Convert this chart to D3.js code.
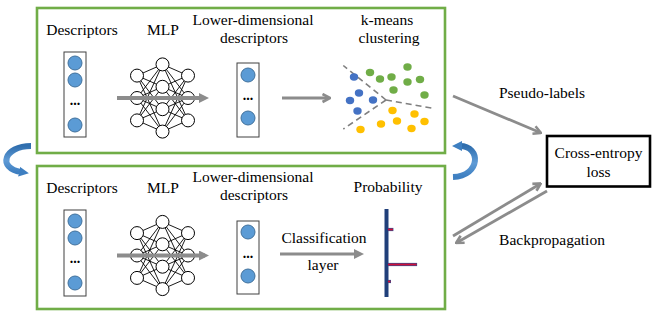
<!DOCTYPE html>
<html><head><meta charset="utf-8">
<script src="https://cdn.jsdelivr.net/npm/d3@7"></script>
<style>html,body{margin:0;padding:0;background:#fff;overflow:hidden}
svg text{font-family:"Liberation Serif","Times New Roman",Tinos,"DejaVu Serif",serif;}</style>
</head><body>
<svg id="c" width="652" height="311"></svg>
<script>
// ---------- data ----------
const panelLabelsTop = ["Descriptors", "MLP", "Lower-dimensional", "descriptors", "k-means", "clustering"];
const panelLabelsBottom = ["Descriptors", "MLP", "Lower-dimensional", "descriptors", "Probability", "Classification", "layer"];
const sideLabels = ["Pseudo-labels", "Backpropagation"];
const lossLabel = ["Cross-entropy", "loss"];
const mlpLayers = [3, 4, 3];
// k-means clusters in 2-D feature space (x, y)
const clusterBlue   = [[1.4,1.7],[1.9,3.3],[1.0,4.05],[3.3,4.0],[1.75,5.1]];
const clusterGreen  = [[3.0,1.25],[4.0,1.9],[5.15,1.7],[6.75,0.7],[6.75,2.2],[8.0,1.95],[5.35,3.0],[8.45,3.5]];
const clusterYellow = [[5.25,5.05],[7.45,5.4],[8.45,6.15],[5.7,6.1],[4.1,6.4],[7.15,6.85],[2.05,6.95]];
const boundaryCenter = [4.6, 4.0];
const boundaryEnds = [[0.33,0.55],[9.33,4.83],[0.33,6.9]];
const probabilities = [0.18, 0.97, 0.1];

// ---------- drawing ----------
const svg = d3.select("#c");
const GREEN = "#70ad47", GREY = "#8c8c8c";
const defs = svg.append("defs");

function marker(id, d, fill, stroke, w, h, refX) {
  const m = defs.append("marker").attr("id", id)
    .attr("viewBox", "0 0 10 10").attr("refX", refX).attr("refY", 5)
    .attr("markerUnits", "userSpaceOnUse")
    .attr("markerWidth", w).attr("markerHeight", h).attr("orient", "auto");
  m.append("path").attr("d", d).attr("fill", fill).attr("stroke", stroke)
    .attr("stroke-width", stroke === "none" ? 0 : 2.6).attr("stroke-linejoin", "miter");
}
marker("tri", "M0,0L10,5L0,10Z", GREY, "none", 11, 10, 6);
marker("chev", "M1.5,1L9,5L1.5,9", "none", GREY, 10, 11, 8);
marker("blueHead", "M0,0L10,5L0,10Z", "#3e7fc1", "none", 10, 12, 2);

const grad = defs.append("linearGradient").attr("id", "bg").attr("x1", 0).attr("y1", 0).attr("x2", 0).attr("y2", 1);
grad.append("stop").attr("offset", "0%").attr("stop-color", "#2f6eae");
grad.append("stop").attr("offset", "55%").attr("stop-color", "#5f9bd6");
grad.append("stop").attr("offset", "100%").attr("stop-color", "#3e7fc1");

function text(g, s, x, y, size) {
  g.append("text").attr("x", x).attr("y", y).attr("text-anchor", "middle")
    .style("font-size", (size || 15.5) + "px").attr("fill", "#000").text(s);
}

function column(g, x, y0, y1, circlesY, dotsY) {
  g.append("rect").attr("x", x - 11).attr("y", y0).attr("width", 22).attr("height", y1 - y0)
    .attr("fill", "#fff").attr("stroke", "#404040").attr("stroke-width", 1);
  g.selectAll(null).data(circlesY).enter().append("circle")
    .attr("cx", x).attr("cy", d => d).attr("r", 7)
    .attr("fill", "#5b9bd5").attr("stroke", "#41719c").attr("stroke-width", 1);
  g.append("text").attr("x", x).attr("y", dotsY + 2).attr("text-anchor", "middle")
    .style("font-size", "14px").attr("font-weight", "bold").text("...");
}

function mlp(g, cy) {
  const xs = d3.scalePoint().domain(d3.range(mlpLayers.length)).range([137, 188]);
  const nodes = mlpLayers.map((n, i) => {
    const ys = d3.scalePoint().domain(d3.range(n)).range([cy - (n - 1) * 11.2, cy + (n - 1) * 11.2]);
    return d3.range(n).map(j => ({x: xs(i), y: ys(j)}));
  });
  const links = [];
  for (let i = 0; i < nodes.length - 1; i++)
    nodes[i].forEach(a => nodes[i + 1].forEach(b => links.push([a, b])));
  g.selectAll(null).data(links).enter().append("line")
    .attr("x1", d => d[0].x).attr("y1", d => d[0].y).attr("x2", d => d[1].x).attr("y2", d => d[1].y)
    .attr("stroke", "#000").attr("stroke-width", 0.9);
  g.selectAll(null).data(nodes.flat()).enter().append("circle")
    .attr("cx", d => d.x).attr("cy", d => d.y).attr("r", 6.5)
    .attr("fill", "#fff").attr("stroke", "#000").attr("stroke-width", 1);
  g.append("line").attr("x1", 117).attr("y1", cy).attr("x2", 205).attr("y2", cy)
    .attr("stroke", GREY).attr("stroke-width", 4).attr("marker-end", "url(#tri)");
}

// panel frames
svg.append("rect").attr("x", 37).attr("y", 8).attr("width", 408).attr("height", 145)
  .attr("fill", "none").attr("stroke", GREEN).attr("stroke-width", 2.6);
svg.append("rect").attr("x", 37).attr("y", 166).attr("width", 408).attr("height", 143)
  .attr("fill", "none").attr("stroke", GREEN).attr("stroke-width", 2.6);

// ---- top panel ----
const topG = svg.append("g");
text(topG, panelLabelsTop[0], 82, 35);
text(topG, panelLabelsTop[1], 163, 35);
text(topG, panelLabelsTop[2], 253, 25);
text(topG, panelLabelsTop[3], 254, 43);
text(topG, panelLabelsTop[4], 387, 25);
text(topG, panelLabelsTop[5], 389, 43);
column(topG, 75, 52, 137, [63, 80, 125], 103);
mlp(topG, 98);
column(topG, 248, 63, 137, [75, 118], 98);
topG.append("line").attr("x1", 282).attr("y1", 98).attr("x2", 329).attr("y2", 98)
  .attr("stroke", GREY).attr("stroke-width", 3).attr("marker-end", "url(#chev)");

// k-means scatter
const kx = d3.scaleLinear().domain([0, 10]).range([340, 440]);
const ky = d3.scaleLinear().domain([0, 8]).range([60, 140]);
const bc = boundaryCenter;
topG.selectAll(null).data(boundaryEnds).enter().append("line")
  .attr("x1", kx(bc[0])).attr("y1", ky(bc[1])).attr("x2", d => kx(d[0])).attr("y2", d => ky(d[1]))
  .attr("stroke", "#7f7f7f").attr("stroke-width", 1.6).attr("stroke-dasharray", "6,4");
[[clusterBlue, "#4472c4"], [clusterGreen, "#70ad47"], [clusterYellow, "#ffc000"]].forEach(([pts, col]) => {
  topG.selectAll(null).data(pts).enter().append("ellipse")
    .attr("cx", d => kx(d[0])).attr("cy", d => ky(d[1])).attr("rx", 4.2).attr("ry", 3.7)
    .attr("fill", col);
});

// ---- bottom panel ----
const botG = svg.append("g");
text(botG, panelLabelsBottom[0], 82, 193);
text(botG, panelLabelsBottom[1], 163, 193);
text(botG, panelLabelsBottom[2], 253, 182);
text(botG, panelLabelsBottom[3], 254, 200);
text(botG, panelLabelsBottom[4], 388, 192);
text(botG, panelLabelsBottom[5], 324, 243);
text(botG, panelLabelsBottom[6], 323, 270);
column(botG, 75, 210, 296, [221, 238, 283], 261);
mlp(botG, 255.5);
column(botG, 248, 221, 294, [232, 276], 256);
botG.append("line").attr("x1", 280).attr("y1", 254).attr("x2", 360).attr("y2", 254)
  .attr("stroke", GREY).attr("stroke-width", 3).attr("marker-end", "url(#tri)");

// probability plot
const pyPos = [229.5, 264.5, 281.5];
const px = d3.scaleLinear().domain([0, 1]).range([388, 418]);
botG.append("line").attr("x1", 386.5).attr("y1", 209).attr("x2", 386.5).attr("y2", 297)
  .attr("stroke", "#203f7a").attr("stroke-width", 4);
probabilities.forEach((p, i) => {
  const y = pyPos[i];
  botG.append("line").attr("x1", 388).attr("y1", y).attr("x2", px(p)).attr("y2", y)
    .attr("stroke", "#2f4f8f").attr("stroke-width", 3.2);
  botG.append("line").attr("x1", 388).attr("y1", y).attr("x2", px(p) - 0.5).attr("y2", y)
    .attr("stroke", "#d0103a").attr("stroke-width", 1.8);
});

// ---- right side ----
const side = svg.append("g");
side.append("rect").attr("x", 547).attr("y", 136).attr("width", 103).attr("height", 50.5)
  .attr("fill", "#fff").attr("stroke", "#000").attr("stroke-width", 2.6);
text(side, lossLabel[0], 598.5, 158);
text(side, lossLabel[1], 598.5, 177);
text(side, sideLabels[0], 542, 98);
text(side, sideLabels[1], 552, 245);
side.append("line").attr("x1", 453).attr("y1", 96).attr("x2", 540).attr("y2", 132.5)
  .attr("stroke", GREY).attr("stroke-width", 2.8).attr("marker-end", "url(#chev)");
side.append("line").attr("x1", 453).attr("y1", 236).attr("x2", 540).attr("y2", 184)
  .attr("stroke", GREY).attr("stroke-width", 2.8).attr("marker-end", "url(#chev)");
side.append("line").attr("x1", 547).attr("y1", 191).attr("x2", 457).attr("y2", 242.5)
  .attr("stroke", GREY).attr("stroke-width", 2.8).attr("marker-end", "url(#chev)");

// ---- curved cycle arrows ----
svg.append("path").attr("d", "M31,146 C4,146 -3,168 21,172")
  .attr("fill", "none").attr("stroke", "url(#bg)").attr("stroke-width", 6)
  .attr("marker-end", "url(#blueHead)");
svg.append("path").attr("d", "M453,177 C481,176 481,146 460,146")
  .attr("fill", "none").attr("stroke", "url(#bg)").attr("stroke-width", 6)
  .attr("marker-end", "url(#blueHead)");
</script>
</body></html>
